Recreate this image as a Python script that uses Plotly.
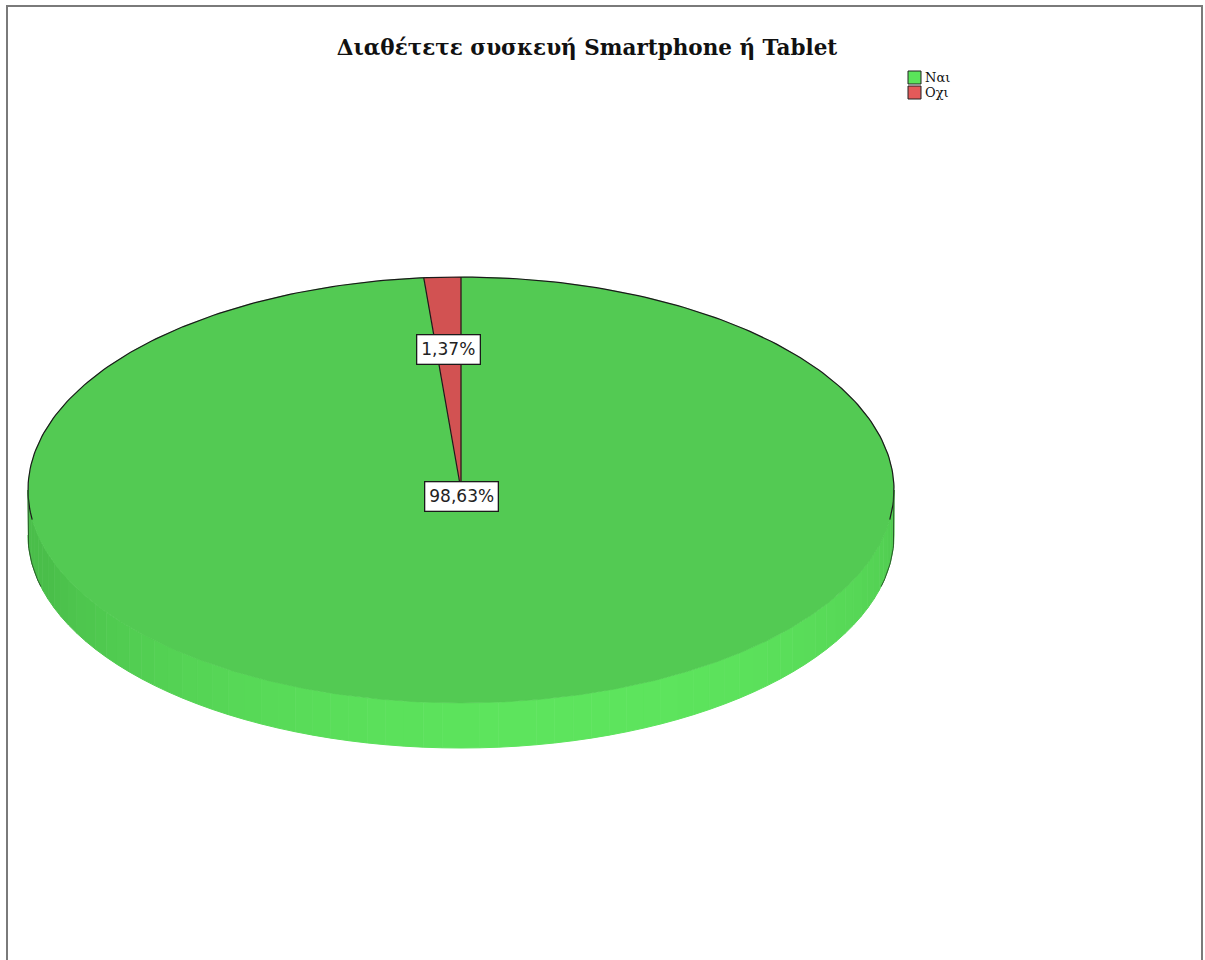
import numpy as np
import plotly.graph_objects as go

# Data
categories = ["Ναι", "Οχι"]
percentages = [98.63, 1.37]
labels = ["98,63%", "1,37%"]

# Styling
top_colors = ["#53ca53", "#d25252"]
legend_colors = ["#5ae45a", "#e35a5a"]
title_text = "Διαθέτετε συσκευή Smartphone ή Tablet"

W, H = 1205, 960
CX, CY = 461, 490          # centre of the top face (pixel axes)
RX, RY = 433, 213          # ellipse radii
DEPTH = 45                 # thickness of the pie
START = 90.0               # first slice starts at 12 o'clock, going clockwise


def ellipse_pt(theta_deg, frac=1.0, dy=0.0):
    t = np.radians(theta_deg)
    return CX + RX * frac * np.cos(t), CY - RY * frac * np.sin(t) + dy


fig = go.Figure()

# --- side wall of the disc (front half), shaded by angle ---
dark = np.array([74, 190, 74])
light = np.array([96, 234, 96])
n_seg = 72
edges = np.linspace(180, 360, n_seg + 1)
for a0, a1 in zip(edges[:-1], edges[1:]):
    mid = np.radians((a0 + a1) / 2)
    # brightest toward the front-right
    k = np.clip(-np.sin(mid) * 0.85 + np.cos(mid) * 0.25, 0, 1)
    col = dark + (light - dark) * k
    c = "rgb(%d,%d,%d)" % tuple(col.astype(int))
    ts = np.linspace(a0, a1, 6)
    xs_top, ys_top = ellipse_pt(ts)
    xs_bot, ys_bot = ellipse_pt(ts[::-1], dy=DEPTH)
    fig.add_trace(go.Scatter(
        x=np.concatenate([xs_top, xs_bot]), y=np.concatenate([ys_top, ys_bot]),
        fill="toself", fillcolor=c, mode="lines", line=dict(color=c, width=1),
        hoverinfo="skip", showlegend=False))

# --- top face slices ---
angle = START
slice_angles = []
for cat, pct, col in zip(categories, percentages, top_colors):
    span = pct / 100 * 360
    a_start, a_end = angle, angle - span
    slice_angles.append((a_start, a_end))
    ts = np.linspace(a_start, a_end, max(int(span) * 2, 4))
    xs, ys = ellipse_pt(ts)
    fig.add_trace(go.Scatter(
        x=np.concatenate([[CX], xs, [CX]]), y=np.concatenate([[CY], ys, [CY]]),
        fill="toself", fillcolor=col, mode="lines", line=dict(color=col, width=0.5),
        hoverinfo="skip", showlegend=False))
    angle = a_end

# --- outlines: back rim, outer side edges and slice borders ---
ts = np.linspace(-8, 188, 200)
xs, ys = ellipse_pt(ts)
fig.add_trace(go.Scatter(x=xs, y=ys, mode="lines",
                         line=dict(color="#1a1a1a", width=1.2),
                         hoverinfo="skip", showlegend=False))
for side, sweep in ((180, 14), (0, -14)):
    x0, y0 = ellipse_pt(side)
    xs_t, ys_t = ellipse_pt(np.linspace(side, side + sweep, 20), dy=DEPTH)
    fig.add_trace(go.Scatter(x=np.concatenate([[x0], xs_t]), y=np.concatenate([[y0], ys_t]),
                             mode="lines", line=dict(color="#2a5a2a", width=1),
                             hoverinfo="skip", showlegend=False))
for a_start, _ in slice_angles:
    x1, y1 = ellipse_pt(a_start)
    fig.add_trace(go.Scatter(x=[CX, x1], y=[CY, y1], mode="lines",
                             line=dict(color="#1a1a1a", width=1.2),
                             hoverinfo="skip", showlegend=False))

# --- percentage labels ---
label_frac = [0.03, 0.66]
for (a_start, a_end), txt, fr in zip(slice_angles, labels, label_frac):
    lx, ly = ellipse_pt((a_start + a_end) / 2, frac=fr)
    fig.add_annotation(x=lx, y=ly, text=txt, showarrow=False,
                       font=dict(family="DejaVu Sans", size=17, color="#222"),
                       bgcolor="white", bordercolor="#1a1a1a", borderwidth=1.3,
                       borderpad=4)

# --- legend (swatches + text, top right) ---
shapes = [dict(type="rect", xref="paper", yref="paper",
               x0=7 / W, x1=1202 / W, y0=-0.01, y1=1 - 6 / H,
               line=dict(color="#7a7a7a", width=2), fillcolor="rgba(0,0,0,0)")]
LEG_X, LEG_Y, LEG_STEP, SW = 908, 71, 15, 13
for i, (cat, col) in enumerate(zip(categories, legend_colors)):
    y_top = LEG_Y + i * LEG_STEP
    shapes.append(dict(type="rect", xref="x", yref="y",
                       x0=LEG_X, x1=LEG_X + SW, y0=y_top, y1=y_top + SW,
                       fillcolor=col, line=dict(color="#222", width=1)))
    fig.add_annotation(x=LEG_X + SW + 2, y=y_top + SW / 2, text=cat,
                       showarrow=False, xanchor="left", yanchor="middle",
                       font=dict(family="DejaVu Serif", size=13, color="#111"))

fig.update_layout(
    width=W, height=H,
    margin=dict(l=0, r=0, t=0, b=0),
    paper_bgcolor="white", plot_bgcolor="white",
    title=dict(text="<b>" + title_text + "</b>", x=587 / W, xanchor="center",
               y=1 - 47 / H, yanchor="middle", yref="container",
               font=dict(family="DejaVu Serif", size=21.5, color="#111")),
    xaxis=dict(range=[0, W], visible=False, fixedrange=True),
    yaxis=dict(range=[H, 0], visible=False, fixedrange=True),
    showlegend=False,
    shapes=shapes,
)

fig.write_html("out.html")
